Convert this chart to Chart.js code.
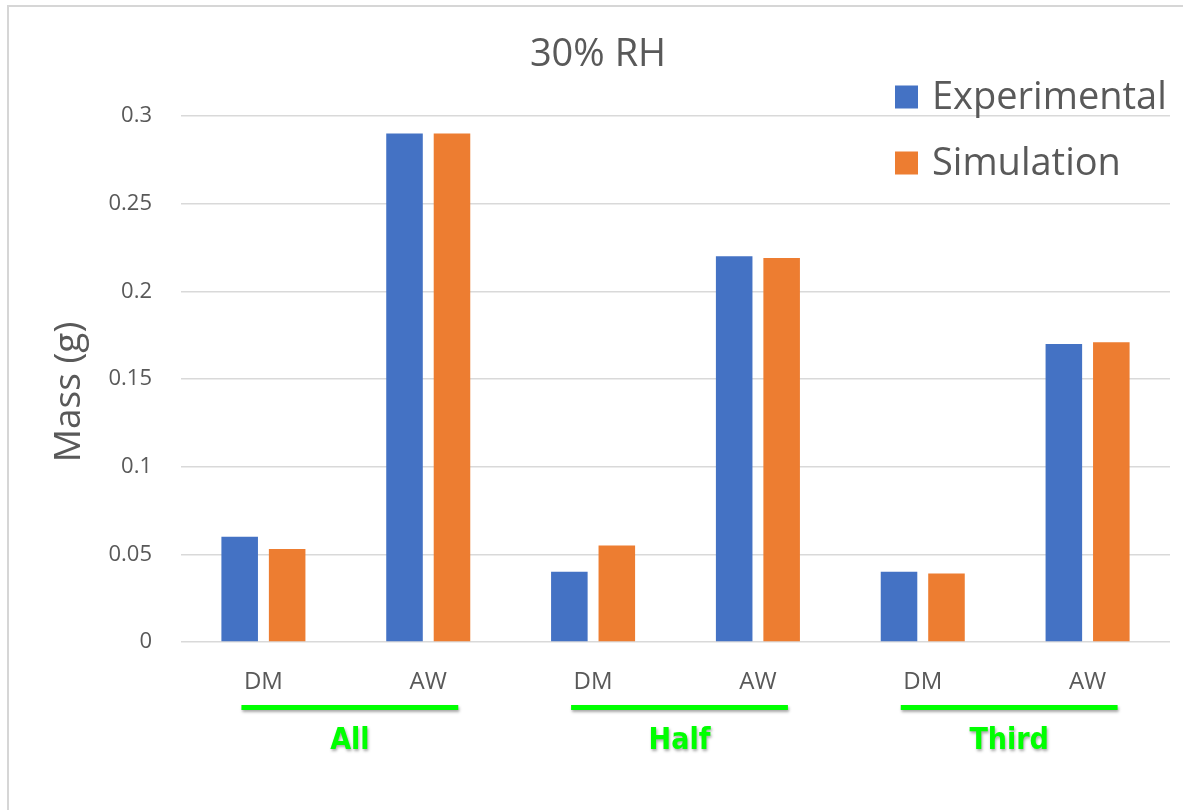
<!DOCTYPE html>
<html>
<head>
<meta charset="utf-8">
<title>30% RH</title>
<script src="https://cdn.jsdelivr.net/npm/chart.js@4.4.1/dist/chart.umd.min.js"></script>
<style>
  html, body { margin: 0; padding: 0; background: #ffffff; }
  #wrap { width: 1183px; height: 810px; position: relative; }
  canvas { display: block; }
</style>
</head>
<body>
<div id="wrap"><canvas id="chart" width="1183" height="810"></canvas></div>
<script>
// Bar categories along the x axis and the group each pair belongs to
const categories = ['DM', 'AW', 'DM', 'AW', 'DM', 'AW'];
const groups = ['All', 'Half', 'Third'];

// Mass (g) for each category
const experimental = [0.06, 0.29, 0.04, 0.22, 0.04, 0.17];
const simulation = [0.053, 0.29, 0.055, 0.219, 0.039, 0.171];

// Y axis tick values
const yTicks = [0, 0.05, 0.1, 0.15, 0.2, 0.25, 0.3];

const chartTitle = '30% RH';
const yTitle = 'Mass (g)';

const TEXT = '#595959';
const FONT = "'Open Sans', 'Noto Sans', sans-serif";
const NARROW = "'Liberation Sans Narrow', 'DejaVu Sans Condensed', 'Liberation Sans', sans-serif";

// White background, thin frame on the top and left edges, chart and axis titles
const framePlugin = {
  id: 'frame',
  beforeDraw(chart) {
    const ctx = chart.ctx;
    ctx.save();
    ctx.fillStyle = '#ffffff';
    ctx.fillRect(0, 0, chart.width, chart.height);
    ctx.strokeStyle = '#d6d6d6';
    ctx.lineWidth = 2;
    ctx.beginPath();
    ctx.moveTo(chart.width, 6);
    ctx.lineTo(8, 6);
    ctx.lineTo(8, chart.height);
    ctx.stroke();

    ctx.fillStyle = TEXT;
    ctx.textAlign = 'center';
    ctx.textBaseline = 'middle';
    ctx.font = '38px ' + FONT;
    ctx.fillText(chartTitle, 598, 55);

    ctx.translate(69, 392);
    ctx.rotate(-Math.PI / 2);
    ctx.font = '37px ' + FONT;
    ctx.fillText(yTitle, 0, 0);
    ctx.restore();
  }
};

// Legend drawn inside the top-right corner of the plot
const legendPlugin = {
  id: 'cornerLegend',
  afterDraw(chart) {
    const ctx = chart.ctx;
    ctx.save();
    ctx.font = '38px ' + FONT;
    ctx.textBaseline = 'middle';
    ctx.textAlign = 'left';
    chart.data.datasets.forEach((ds, i) => {
      const cy = 97 + i * 66;
      ctx.fillStyle = ds.backgroundColor;
      ctx.fillRect(895, cy - 11.5, 23, 23);
      ctx.fillStyle = TEXT;
      ctx.fillText(ds.label, 932, cy + 1);
    });
    ctx.restore();
  }
};

// Green underline and bold label beneath each DM/AW pair
const groupPlugin = {
  id: 'groupLabels',
  afterDraw(chart) {
    const ctx = chart.ctx;
    const x = chart.scales.x;
    ctx.save();
    groups.forEach((name, g) => {
      const left = x.getPixelForValue(g * 2) - 22;
      const right = x.getPixelForValue(g * 2 + 1) + 30;
      ctx.shadowColor = 'rgba(0,0,0,0.35)';
      ctx.shadowBlur = 3;
      ctx.shadowOffsetX = 1;
      ctx.shadowOffsetY = 2;
      ctx.fillStyle = '#00ff00';
      ctx.fillRect(left, 705, right - left, 5);
      ctx.font = 'bold 30px ' + NARROW;
      ctx.textAlign = 'center';
      ctx.textBaseline = 'middle';
      ctx.fillText(name, (left + right) / 2, 741);
    });
    ctx.restore();
  }
};

new Chart(document.getElementById('chart'), {
  type: 'bar',
  data: {
    labels: categories,
    datasets: [
      { label: 'Experimental', data: experimental, backgroundColor: '#4472C4',
        categoryPercentage: 0.576, barPercentage: 0.77 },
      { label: 'Simulation', data: simulation, backgroundColor: '#ED7D31',
        categoryPercentage: 0.576, barPercentage: 0.77 }
    ]
  },
  options: {
    responsive: false,
    animation: false,
    layout: { padding: { left: 0, right: 13, top: 116, bottom: 0 } },
    plugins: {
      legend: { display: false },
      tooltip: { enabled: false },
      title: { display: false }
    },
    scales: {
      x: {
        grid: { display: false },
        border: { display: false },
        ticks: { color: TEXT, font: { family: FONT, size: 24 }, padding: 18, maxRotation: 0 },
        afterFit(scale) { scale.height = 168; }
      },
      y: {
        min: 0,
        max: 0.3,
        afterBuildTicks(scale) { scale.ticks = yTicks.map(v => ({ value: v })); },
        grid: { color: '#d9d9d9', lineWidth: 1.5, drawTicks: false },
        border: { display: false },
        ticks: {
          color: TEXT,
          font: { family: FONT, size: 22 },
          padding: 29,
          callback: v => String(parseFloat(Number(v).toFixed(2)))
        },
        afterFit(scale) { scale.width = 181; }
      }
    }
  },
  plugins: [framePlugin, legendPlugin, groupPlugin]
});
</script>
</body>
</html>
